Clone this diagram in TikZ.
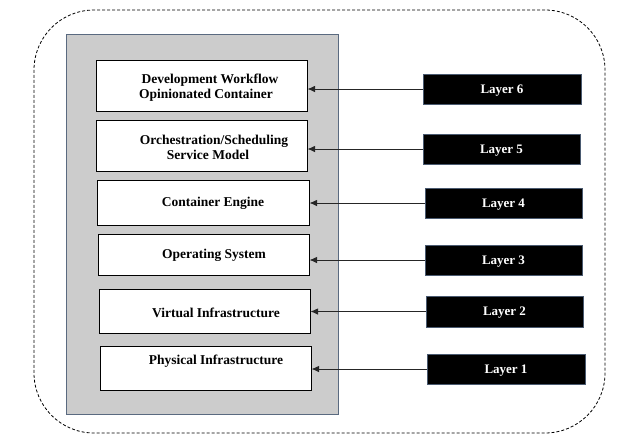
\documentclass[tikz,border=0pt]{standalone}
\usepackage{fontspec}
\setmainfont{Liberation Serif}
\usetikzlibrary{arrows.meta}
\definecolor{panelgray}{HTML}{CCCCCC}
\definecolor{paneledge}{HTML}{5A6A80}
\definecolor{layeredge}{HTML}{4A5A70}
\tikzset{
  frame/.style={draw=black, line width=0.8pt, dash pattern=on 3pt off 2pt, rounded corners=60pt, inner sep=0pt},
  panel/.style={draw=paneledge, fill=panelgray, line width=1pt, inner sep=0pt},
  box/.style={draw=black, fill=white, line width=1pt, inner sep=0pt},
  layerbox/.style={draw=layeredge, fill=black, line width=1pt, inner sep=0pt, minimum width=157pt, minimum height=30pt,
    text=white, font=\fontsize{13}{15}\selectfont\bfseries, text depth=0pt},
  lbl/.style={font=\fontsize{13.5}{15}\selectfont\bfseries, align=center, inner sep=0pt},
  arr/.style={-{Latex[length=7.5pt,width=6.5pt]}, line width=0.9pt, draw=black!85},
}
\begin{document}
\begin{tikzpicture}[x=1pt,y=-1pt]
\useasboundingbox (0,0) rectangle (626,445);
\node[frame, minimum width=571pt, minimum height=423pt] (outer) at (319.5,221.5) {};
\node[panel, minimum width=271.5pt, minimum height=380pt] (panel) at (202.25,224) {};
% white layer boxes
\node[box, minimum width=211pt, minimum height=51pt] (b6) at (201.5,85.5) {};
\node[box, minimum width=211pt, minimum height=51pt] (b5) at (201.5,145.5) {};
\node[box, minimum width=212pt, minimum height=45pt] (b4) at (203,202.5) {};
\node[box, minimum width=211pt, minimum height=41pt] (b3) at (203.5,254.5) {};
\node[box, minimum width=211pt, minimum height=44pt] (b2) at (204.5,311) {};
\node[box, minimum width=211pt, minimum height=44pt] (b1) at (205.5,368) {};
% texts
\node[lbl] (t6) at (206,87.5) {\hspace*{8pt}Development Workflow\\Opinionated Container};
\node[lbl] (t5) at (208,147) {\hspace*{12pt}Orchestration/Scheduling\\Service Model};
\node[lbl] (t4) at (213,203.5) {Container Engine};
\node[lbl] (t3) at (214,255.5) {Operating System};
\node[lbl] (t2) at (216,312.5) {Virtual Infrastructure};
\node[lbl] (t1) at (216,361) {Physical Infrastructure};
% layer boxes
\node[layerbox, minimum width=158pt] (L6) at (502,89) {Layer 6};
\node[layerbox] (L5) at (501.5,149) {Layer 5};
\node[layerbox] (L4) at (503.5,203) {Layer 4};
\node[layerbox] (L3) at (503.5,260) {Layer 3};
\node[layerbox, minimum height=31pt] (L2) at (504.5,311.5) {Layer 2};
\node[layerbox, minimum width=158pt] (L1) at (506,369) {Layer 1};
% arrows
\foreach \i in {1,...,6}{
  \draw[arr] (L\i.west) -- (L\i.west -| b\i.east);
}
\end{tikzpicture}
\end{document}
